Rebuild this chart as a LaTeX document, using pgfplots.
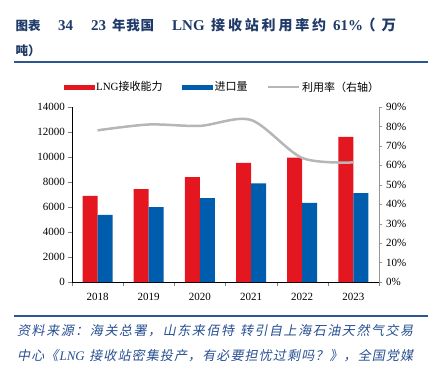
\documentclass[border=0pt]{standalone}
\usepackage{fontspec}
\usepackage{pgfplots}
\pgfplotsset{compat=1.18}
\setmainfont{Liberation Serif}
\newfontfamily\cjk{Noto Sans CJK SC}
\newfontfamily\cjksl{Noto Sans CJK SC}[FakeSlant=0.2]
\definecolor{barred}{RGB}{228,22,32}
\definecolor{barblue}{RGB}{0,92,172}
\definecolor{linegray}{RGB}{182,182,182}
\definecolor{axgray}{RGB}{150,150,150}
\definecolor{titleblue}{RGB}{31,58,105}
\definecolor{rulecol}{RGB}{44,86,145}
\definecolor{srcblue}{RGB}{38,78,145}
\def\spread#1{\spreadi#1\relax}
\def\spreadi#1{\ifx\relax#1\unskip\else{#1}\hfil\expandafter\spreadi\fi}
\begin{document}
\begin{tikzpicture}
\useasboundingbox (0,0) rectangle (432pt,-375pt);
% title
\begin{scope}[every node/.style={anchor=base west, inner sep=0pt, text=titleblue}]
\node at (15.5pt,-30.5pt) {\hbox to 23pt{\cjk\bfseries\fontsize{12.5}{14}\selectfont\spread{图表}}};
\node at (58pt,-30.5pt) {\bfseries\fontsize{15}{17}\selectfont 34};
\node at (91pt,-30.5pt) {\bfseries\fontsize{15}{17}\selectfont 23};
\node at (112pt,-30.5pt) {\hbox to 42pt{\cjk\bfseries\fontsize{13.5}{15}\selectfont\spread{年我国}}};
\node at (172pt,-30.5pt) {\bfseries\fontsize{15}{17}\selectfont LNG};
\node at (211pt,-30.5pt) {\hbox to 115pt{\cjk\bfseries\fontsize{14}{16}\selectfont\spread{接收站利用率约}}};
\node at (333pt,-30.5pt) {\bfseries\fontsize{15}{17}\selectfont 61\%};
\node at (361pt,-30.5pt) {\hbox to 35pt{\cjk\bfseries\fontsize{14.5}{16}\selectfont\spread{（万}}};
\node at (15.5pt,-55pt) {\hbox to 23pt{\cjk\bfseries\fontsize{12.5}{14}\selectfont\spread{吨）}}};
\end{scope}
\draw[rulecol, line width=2pt] (14pt,-62pt) -- (428pt,-62pt);
\draw[rulecol, line width=2pt] (14pt,-316pt) -- (428pt,-316pt);
% source
\begin{scope}[every node/.style={anchor=base west, inner sep=0pt, text=srcblue}]
\node at (17pt,-335pt) {\hbox to 396pt{\cjksl\fontsize{13}{15}\selectfont\spread{资料来源：海关总署，山东来佰特{~}转引自上海石油天然气交易}}};
\node at (17pt,-360pt) {\hbox to 396pt{\cjksl\fontsize{13}{15}\selectfont\spread{中心《{\rmfamily\itshape LNG~}接收站密集投产，有必要担忧过剩吗？》，全国党媒}}};
\end{scope}
% bars
\begin{axis}[
  at={(72pt,-282pt)}, anchor=south west,
  scale only axis, width=307pt, height=175pt,
  xmin=-0.5, xmax=5.5, ymin=0, ymax=14000,
  axis y line*=left, axis x line*=bottom,
  ytick={0,2000,...,14000},
  xtick={0,1,2,3,4,5},
  xticklabels={2018,2019,2020,2021,2022,2023},
  major x tick style={draw=none},
  minor xtick={-0.5,0.5,1.5,2.5,3.5,4.5,5.5},
  tick align=outside,
  major tick length=3.5pt, minor tick length=4pt,
  scaled y ticks=false,
  /pgf/number format/1000 sep={},
  /pgf/number format/assume math mode=true,
  tick label style={font=\fontsize{11}{13}\selectfont},
  xticklabel style={yshift=-4pt},
  ybar=0pt, bar width=15pt,
  legend columns=3,
  legend style={at={(0.489,1.114)}, anchor=center, draw=none, fill=none,
    font=\fontsize{11}{13}\selectfont,
    /tikz/every even column/.append style={column sep=18pt},
    nodes={inner sep=1.5pt}},
  legend cell align=left,
]
\addplot[fill=barred, draw=none,
  legend image code/.code={\fill[barred] (0pt,-2.5pt) rectangle (31pt,2.5pt);}]
  coordinates {(0,6900) (1,7440) (2,8400) (3,9540) (4,9950) (5,11620)};
\addlegendentry{LNG{\cjk 接收能力}}
\addplot[fill=barblue, draw=none,
  legend image code/.code={\fill[barblue] (0pt,-2.5pt) rectangle (31pt,2.5pt);}]
  coordinates {(0,5380) (1,6000) (2,6720) (3,7900) (4,6340) (5,7120)};
\addlegendentry{\cjk 进口量}
\addlegendimage{legend image code/.code={\draw[linegray, line width=2.5pt] (0pt,0pt) -- (31pt,0pt);}}
\addlegendentry{\cjk 利用率（右轴）}
\end{axis}
% line
\begin{axis}[
  at={(72pt,-282pt)}, anchor=south west,
  scale only axis, width=307pt, height=175pt,
  xmin=-0.5, xmax=5.5, ymin=0, ymax=90,
  axis y line*=right, axis x line=none,
  ytick={0,10,...,90},
  yticklabel={\pgfmathprintnumber{\tick}\%},
  tick align=outside, major tick length=3.5pt,
  y axis line style={draw=axgray},
  ytick style={draw=axgray},
  /pgf/number format/assume math mode=true,
  tick label style={font=\fontsize{11}{13}\selectfont},
]
\addplot[smooth, linegray, line width=2.5pt]
  coordinates {(0,78.0) (1,81.0) (2,80.3) (3,83.3) (4,63.8) (5,61.5)};
\end{axis}
\end{tikzpicture}
\end{document}
